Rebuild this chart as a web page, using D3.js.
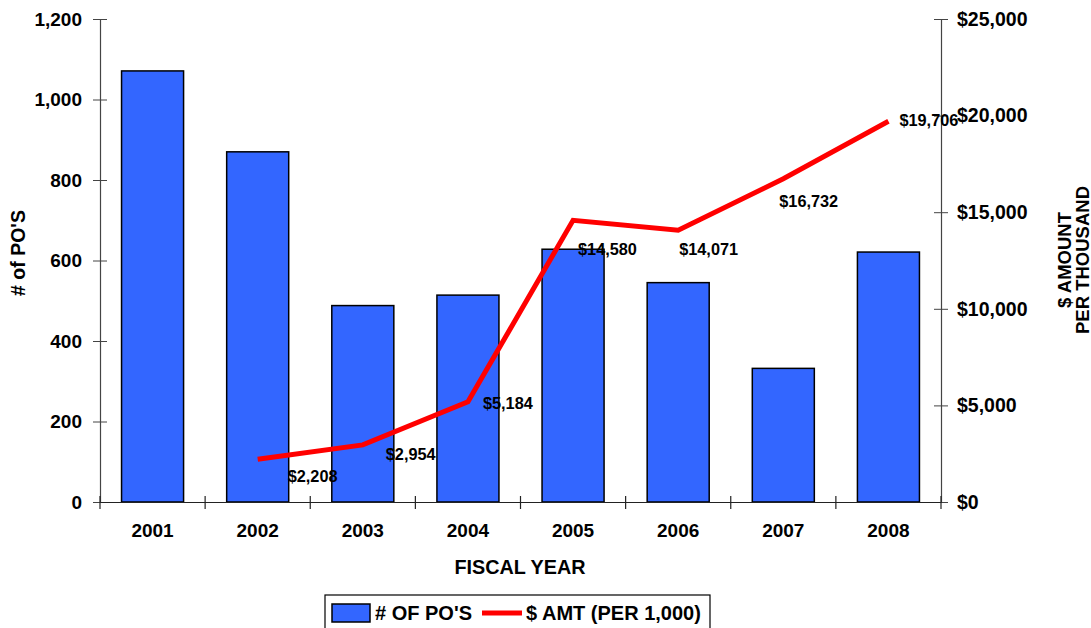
<!DOCTYPE html>
<html>
<head>
<meta charset="utf-8">
<script src="https://cdn.jsdelivr.net/npm/d3@7"></script>
<style>
  html, body { margin: 0; padding: 0; background: #fff; }
  svg { display: block; font-family: "Liberation Sans", Arial, sans-serif; font-weight: bold; }
</style>
</head>
<body>
<svg id="chart" width="1091" height="628"></svg>
<script>
// Fiscal years and the two series
const years = ["2001", "2002", "2003", "2004", "2005", "2006", "2007", "2008"];
const poCounts = [1071, 870, 488, 514, 628, 545, 332, 621];
const amtYears = ["2002", "2003", "2004", "2005", "2006", "2007", "2008"];
const amounts = [2208, 2954, 5184, 14580, 14071, 16732, 19706];
const leftTicks = [0, 200, 400, 600, 800, 1000, 1200];
const rightTicks = [0, 5000, 10000, 15000, 20000, 25000];
// label nudges (dx, dy) relative to each line point
const labelOffsets = [[30, 23], [23, 15], [15, 7], [5, 35], [1, 25], [-4, 28], [11, 5]];

const svg = d3.select("#chart");
const plot = { left: 100, right: 941, top: 19, bottom: 502 };

const x = d3.scaleBand().domain(years)
  .range([plot.left, plot.right]).paddingInner(0.41).paddingOuter(0.205);
const yL = d3.scaleLinear().domain([0, 1200]).range([plot.bottom, plot.top]);
const yR = d3.scaleLinear().domain([0, 25000]).range([plot.bottom, plot.top]);
const step = x.step();
const cx = d => x(d) + x.bandwidth() / 2;

// bars
svg.append("g").selectAll("rect").data(years).join("rect")
  .attr("x", d => x(d))
  .attr("y", (d, i) => yL(poCounts[i]))
  .attr("width", x.bandwidth())
  .attr("height", (d, i) => yL(0) - yL(poCounts[i]))
  .attr("fill", "#3366FF")
  .attr("stroke", "#000")
  .attr("stroke-width", 1.5);

// left axis
const gL = svg.append("g").attr("transform", `translate(${plot.left},0)`)
  .call(d3.axisLeft(yL).tickValues(leftTicks).tickFormat(d3.format(",")).tickSizeInner(7).tickSizeOuter(0));
gL.select(".domain").attr("stroke", "#444").attr("stroke-width", 1.2);
gL.selectAll(".tick line").attr("x2", 7).attr("x1", -7).attr("stroke", "#444");
gL.selectAll(".tick text").attr("x", -18).attr("font-size", 19).attr("font-weight", "bold")
  .attr("font-family", "Liberation Sans, Arial, sans-serif").attr("fill", "#000");

// right axis
const gR = svg.append("g").attr("transform", `translate(${plot.right},0)`)
  .call(d3.axisRight(yR).tickValues(rightTicks).tickFormat(d => "$" + d3.format(",")(d)).tickSizeInner(7).tickSizeOuter(0));
gR.select(".domain").attr("stroke", "#444").attr("stroke-width", 1.2);
gR.selectAll(".tick line").attr("x1", -7).attr("x2", 7).attr("stroke", "#444");
gR.selectAll(".tick text").attr("x", 16).attr("font-size", 19.5).attr("font-weight", "bold")
  .attr("font-family", "Liberation Sans, Arial, sans-serif").attr("fill", "#000");

// x axis
const gX = svg.append("g").attr("transform", `translate(0,${plot.bottom})`)
  .call(d3.axisBottom(x).tickSize(0).tickSizeOuter(0));
gX.select(".domain").attr("stroke", "#222").attr("stroke-width", 1.2);
gX.selectAll(".tick text").attr("y", 29).attr("dy", "0.32em").attr("font-size", 19).attr("font-weight", "bold")
  .attr("font-family", "Liberation Sans, Arial, sans-serif").attr("fill", "#000");
const bounds = years.map(d => x(d) - step * x.paddingInner() / 2).concat([plot.right]);
gX.selectAll(".boundary").data(bounds).join("line")
  .attr("x1", d => d).attr("x2", d => d).attr("y1", -6).attr("y2", 7)
  .attr("stroke", "#222").attr("stroke-width", 1.2);

// amount line
const pts = amtYears.map((d, i) => [cx(d), yR(amounts[i])]);
svg.append("path")
  .attr("d", d3.line()(pts))
  .attr("fill", "none")
  .attr("stroke", "#FF0000")
  .attr("stroke-width", 5)
  .attr("stroke-linejoin", "miter")
  .attr("stroke-linecap", "butt");

// value labels
svg.append("g").selectAll("text").data(amtYears).join("text")
  .attr("x", (d, i) => pts[i][0] + labelOffsets[i][0])
  .attr("y", (d, i) => pts[i][1] + labelOffsets[i][1])
  .attr("font-size", 16.3)
  .attr("fill", "#000")
  .text((d, i) => "$" + d3.format(",")(amounts[i]));

// axis titles
svg.append("text").attr("x", 520).attr("y", 574).attr("text-anchor", "middle")
  .attr("font-size", 19.8).text("FISCAL YEAR");
svg.append("text").attr("transform", "translate(25,253) rotate(-90)")
  .attr("text-anchor", "middle").attr("font-size", 19.5).text("# of PO'S");
const rt = svg.append("text").attr("transform", "translate(1071,260) rotate(-90)")
  .attr("text-anchor", "middle").attr("font-size", 18.5);
rt.append("tspan").attr("x", 0).attr("dy", 0).text("$ AMOUNT");
rt.append("tspan").attr("x", 0).attr("dy", 17.5).text("PER THOUSAND");

// legend
const lg = svg.append("g");
lg.append("rect").attr("x", 325).attr("y", 595).attr("width", 385).attr("height", 40)
  .attr("fill", "#fff").attr("stroke", "#000").attr("stroke-width", 1.2);
lg.append("rect").attr("x", 332).attr("y", 604).attr("width", 38).attr("height", 18)
  .attr("fill", "#3366FF").attr("stroke", "#000").attr("stroke-width", 1.5);
lg.append("text").attr("x", 375).attr("y", 620).attr("font-size", 20).text("# OF PO'S");
lg.append("line").attr("x1", 482).attr("x2", 522).attr("y1", 613).attr("y2", 613)
  .attr("stroke", "#FF0000").attr("stroke-width", 5);
lg.append("text").attr("x", 526).attr("y", 620).attr("font-size", 20).text("$ AMT (PER 1,000)");
</script>
</body>
</html>
